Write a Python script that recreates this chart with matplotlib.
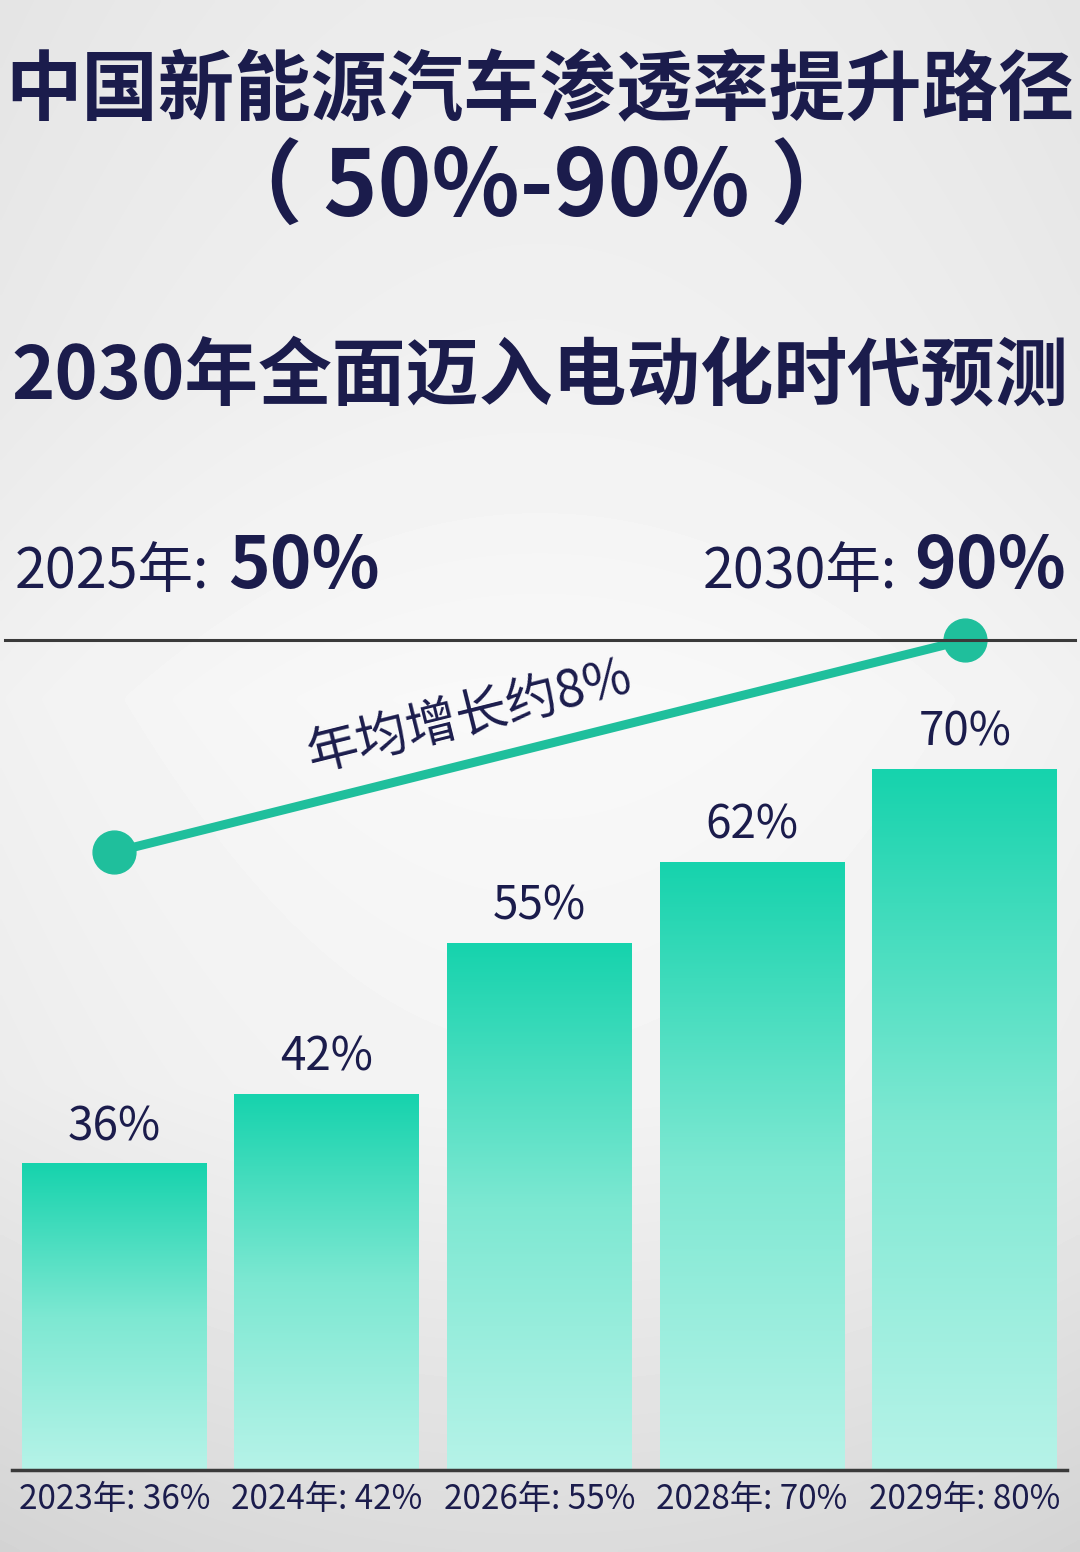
import matplotlib.pyplot as plt
import numpy as np
from matplotlib.colors import LinearSegmentedColormap

plt.rcParams['font.family'] = ['Noto Sans CJK SC', 'DejaVu Sans']

# data
bar_values = [36, 42, 55, 62, 70]
bar_labels = ['36%', '42%', '55%', '62%', '70%']
year_labels = ['2023年: 36%', '2024年: 42%', '2026年: 55%', '2028年: 70%', '2029年: 80%']
trend_years = ['2025年', '2030年']
trend_values = [50, 90]
trend_text = '年均增长约8%'

navy = '#1b1c4c'
teal = '#1fbf9c'

W, H = 1080, 1552
fig = plt.figure(figsize=(W / 100, H / 100), dpi=100)

# background: light grey with a whiter middle and darker bottom
bg = fig.add_axes([0, 0, 1, 1], zorder=-10)
t = np.linspace(0, 1, 400)[:, None]
s = np.linspace(0, 1, 300)[None, :]
light = np.interp(t, [0, 0.25, 0.45, 0.7, 1], [0.925, 0.945, 0.975, 0.955, 0.86])
light = light - 0.03 * (2 * np.abs(s - 0.5)) ** 2
bg.imshow(np.clip(light, 0, 1), cmap='gray', vmin=0, vmax=1, aspect='auto',
          extent=[0, 1, 0, 1], interpolation='bilinear')
bg.axis('off')

def fy(px):
    return 1 - px / H

# header texts
fig.text(0.5, fy(92), '中国新能源汽车渗透率提升路径', ha='center', va='center',
         fontsize=55, weight='bold', color=navy)
fig.text(0.497, fy(190), '（ 50%-90% ）', ha='center', va='center',
         fontsize=66, weight='bold', color=navy)
fig.text(0.5, fy(377), '2030年全面迈入电动化时代预测', ha='center', va='center',
         fontsize=53, weight='bold', color=navy)

fig.text(15 / W, fy(572), trend_years[0] + ':', ha='left', va='center', fontsize=40, color=navy)
fig.text(228 / W, fy(567), f'{trend_values[0]}%', ha='left', va='center', fontsize=51,
         weight='bold', color=navy)
fig.text(897 / W, fy(572), trend_years[1] + ':', ha='right', va='center', fontsize=40, color=navy)
fig.text(1066 / W, fy(567), f'{trend_values[1]}%', ha='right', va='center', fontsize=51,
         weight='bold', color=navy)

# bar axes
left = 8 / W
right = 1071 / W
ax = fig.add_axes([left, fy(1470), right - left, (1470 - 640) / H])
ax.patch.set_alpha(0)
x = np.arange(len(bar_values))
ylow = 9.6
ax.set_xlim(-0.5, len(bar_values) - 0.5)
ax.set_ylim(ylow, 81.15)
bars = ax.bar(x, bar_values, width=0.87, facecolor='none', edgecolor='none')

cmap = LinearSegmentedColormap.from_list('bar', ['#b6f3e8', '#7de8d2', '#16d3ad'])
grad = np.linspace(0, 1, 256)[:, None]
for b in bars:
    x0 = b.get_x()
    ax.imshow(grad, cmap=cmap, origin='lower', aspect='auto',
              extent=[x0, x0 + b.get_width(), ylow, b.get_height()], zorder=2)

for xi, v, lab in zip(x, bar_values, bar_labels):
    ax.annotate(lab, (xi, v), xytext=(0, 9), textcoords='offset points',
                ha='center', va='bottom', fontsize=33, color=navy)

ax.set_xticks(x)
ax.set_xticklabels(year_labels, fontsize=24, color=navy, weight='medium')
ax.tick_params(axis='x', length=0, pad=9)
ax.set_yticks([])
for sp in ['left', 'right', 'top']:
    ax.spines[sp].set_visible(False)
ax.spines['bottom'].set_color('#3a3a3a')
ax.spines['bottom'].set_linewidth(2.5)
ax.spines['bottom'].set_bounds(-0.48, 4.48)
ax.set_xlim(-0.5, len(bar_values) - 0.5)

# reference line at the top
fig.add_artist(plt.Line2D([5 / W, 1075 / W], [fy(640), fy(640)], color='#3a3a3a', lw=2.2))

# trend line 2025 -> 2030 on its own scale
ax2 = ax.twinx()
ax2.set_ylim(-66.6, 90)
ax2.axis('off')
ax2.plot([0, len(bar_values) - 1], trend_values, color=teal, lw=6.5,
         solid_capstyle='round', clip_on=False, zorder=5)
ax2.scatter([0, len(bar_values) - 1], trend_values, s=950, color=teal, clip_on=False, zorder=6)
ax2.text(1.67, 75.5, trend_text, rotation=14, rotation_mode='anchor', ha='center', va='center',
         fontsize=37, color=navy)

fig.savefig('out.png', dpi=100)
